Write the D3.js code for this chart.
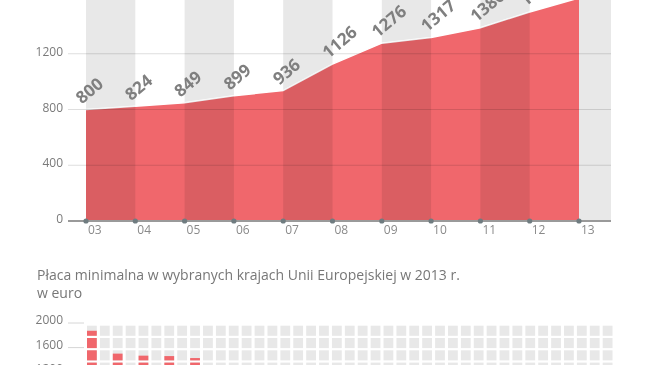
<!DOCTYPE html>
<html>
<head>
<meta charset="utf-8">
<style>
  body { margin: 0; background: #fff; }
  svg { display: block; font-family: "Open Sans", sans-serif; }
  .ylab { font-size: 12px; fill: #7a7a7a; text-anchor: end; }
  .xlab { font-size: 12px; fill: #8a8a8a; }
  .val { font-size: 17px; font-weight: 700; fill: #7f7f7f; }
  .title { font-size: 14px; fill: #777; }
</style>
<script src="https://d3js.org/d3.v7.min.js"></script>
</head>
<body>
<svg width="650" height="365"></svg>
<script>
// placa minimalna w Polsce (zl), lata 2003-2013
var years = ["03", "04", "05", "06", "07", "08", "09", "10", "11", "12", "13"];
var wages = [800, 824, 849, 899, 936, 1126, 1276, 1317, 1386, 1500, 1600];
var yTicks = [0, 400, 800, 1200];

// placa minimalna w krajach UE w 2013 r. (euro)
var countries = ["LU", "BE", "NL", "IE", "FR", "UK", "SI", "ES", "MT", "GR", "PT",
                 "PL", "HR", "SK", "HU", "EE", "CZ", "LT", "LV", "BG", "RO"];
var euWages = [1874, 1502, 1469, 1462, 1430, 1264, 784, 753, 697, 684, 566,
               393, 372, 338, 335, 320, 312, 290, 287, 159, 157];
var euTicks = [2000, 1600, 1200];

var svg = d3.select("svg");
var red = "#f0676c";

// ---- gorny wykres ----
var x = d3.scalePoint().domain(years).range([86, 579]);
var y = d3.scaleLinear().domain([0, 1600]).range([221, -2]);
var step = x.step();

var area = d3.area()
  .x(function(d, i) { return x(years[i]); })
  .y0(y(0))
  .y1(function(d) { return y(d); });
var line = d3.line()
  .x(function(d, i) { return x(years[i]); })
  .y(function(d) { return y(d); });

// pasy tla
var bands = years.filter(function(d, i) { return i % 2 == 0; });
function bandRects(g) {
  g.selectAll("rect").data(bands).enter().append("rect")
    .attr("x", function(d) { return x(d); })
    .attr("y", 0)
    .attr("width", function(d) { return Math.min(step, 611 - x(d)); })
    .attr("height", y(0))
    .attr("fill", "#e8e8e8");
}
svg.append("g").call(bandRects);

svg.append("path").datum(wages).attr("d", area).attr("fill", red);
svg.append("path").datum(wages).attr("d", line)
  .attr("fill", "none").attr("stroke", "#fff").attr("stroke-width", 1.5);

// pasy i siatka na czerwonym polu (multiply)
var clip = svg.append("clipPath").attr("id", "areaClip");
clip.append("path").datum(wages).attr("d", area);
svg.append("g").attr("clip-path", "url(#areaClip)")
  .style("mix-blend-mode", "multiply")
  .call(bandRects);

svg.append("g").style("mix-blend-mode", "multiply")
  .selectAll("line").data(yTicks.filter(function(d) { return d > 0; }))
  .enter().append("line")
  .attr("x1", 68).attr("x2", 611)
  .attr("y1", function(d) { return y(d); })
  .attr("y2", function(d) { return y(d); })
  .attr("stroke", "#dedede").attr("stroke-width", 1.2);

svg.selectAll(".ylab.top").data(yTicks).enter().append("text")
  .attr("class", "ylab top")
  .attr("x", 63)
  .attr("y", function(d) { return y(d) - 2; })
  .attr("dy", "0.35em")
  .text(function(d) { return d; });

// os x
svg.append("line")
  .attr("x1", 68).attr("x2", 611)
  .attr("y1", y(0)).attr("y2", y(0))
  .attr("stroke", "#9a9a9a").attr("stroke-width", 2);
svg.selectAll("circle.tick").data(years).enter().append("circle")
  .attr("class", "tick")
  .attr("cx", function(d) { return x(d); })
  .attr("cy", y(0))
  .attr("r", 2.6)
  .attr("fill", "#6f7c80");
svg.selectAll(".xlab").data(years).enter().append("text")
  .attr("class", "xlab")
  .attr("x", function(d) { return x(d) + 2; })
  .attr("y", y(0) + 13)
  .text(function(d) { return d; });

// etykiety wartosci
svg.selectAll(".val").data(wages).enter().append("text")
  .attr("class", "val")
  .attr("transform", function(d, i) {
    return "translate(" + (x(years[i]) - 4) + "," + (y(d) - 5) + ") rotate(-40)";
  })
  .text(function(d) { return d; });

// ---- dolny wykres ----
svg.append("text").attr("class", "title").attr("x", 37).attr("y", 280)
  .text("Płaca minimalna w wybranych krajach Unii Europejskiej w 2013 r.");
svg.append("text").attr("class", "title").attr("x", 37).attr("y", 298)
  .text("w euro");

var cols = d3.range(countries.length * 2 - 1);
var xb = d3.scaleBand().domain(cols).range([87, 612.5]).paddingInner(0.24);
var yb = d3.scaleLinear().domain([0, 2000]).range([446, 323]);
var rows = d3.range(0, 2000, 200);

svg.selectAll("line.etick").data(euTicks).enter().append("line")
  .attr("class", "etick")
  .attr("x1", 68).attr("x2", 84)
  .attr("y1", function(d) { return yb(d); })
  .attr("y2", function(d) { return yb(d); })
  .attr("stroke", "#d6d6d6");
svg.selectAll(".ylab.eu").data(euTicks).enter().append("text")
  .attr("class", "ylab eu")
  .attr("x", 63)
  .attr("y", function(d) { return yb(d) - 3; })
  .attr("dy", "0.35em")
  .text(function(d) { return d; });

var cells = [];
cols.forEach(function(c) {
  rows.forEach(function(r) {
    cells.push({ col: c, lo: r, hi: r + 200 });
  });
});
svg.append("g").selectAll("rect").data(cells).enter().append("rect")
  .attr("x", function(d) { return xb(d.col); })
  .attr("y", function(d) { return yb(d.hi) + 2.7; })
  .attr("width", xb.bandwidth())
  .attr("height", function(d) { return yb(d.lo) - yb(d.hi) - 2.2; })
  .attr("fill", "#e8e8e8");

// czerwone wypelnienie komorek do wartosci
var fills = [];
euWages.forEach(function(v, i) {
  rows.forEach(function(r) {
    var top = yb(r + 200) + 2.7, bot = yb(r) + 0.5;
    var t = Math.max(top, yb(v));
    if (t < bot) fills.push({ col: i * 2, t: t, b: bot });
  });
});
svg.append("g").selectAll("rect").data(fills).enter().append("rect")
  .attr("x", function(d) { return xb(d.col); })
  .attr("y", function(d) { return d.t; })
  .attr("width", xb.bandwidth())
  .attr("height", function(d) { return d.b - d.t; })
  .attr("fill", red);
</script>
</body>
</html>
